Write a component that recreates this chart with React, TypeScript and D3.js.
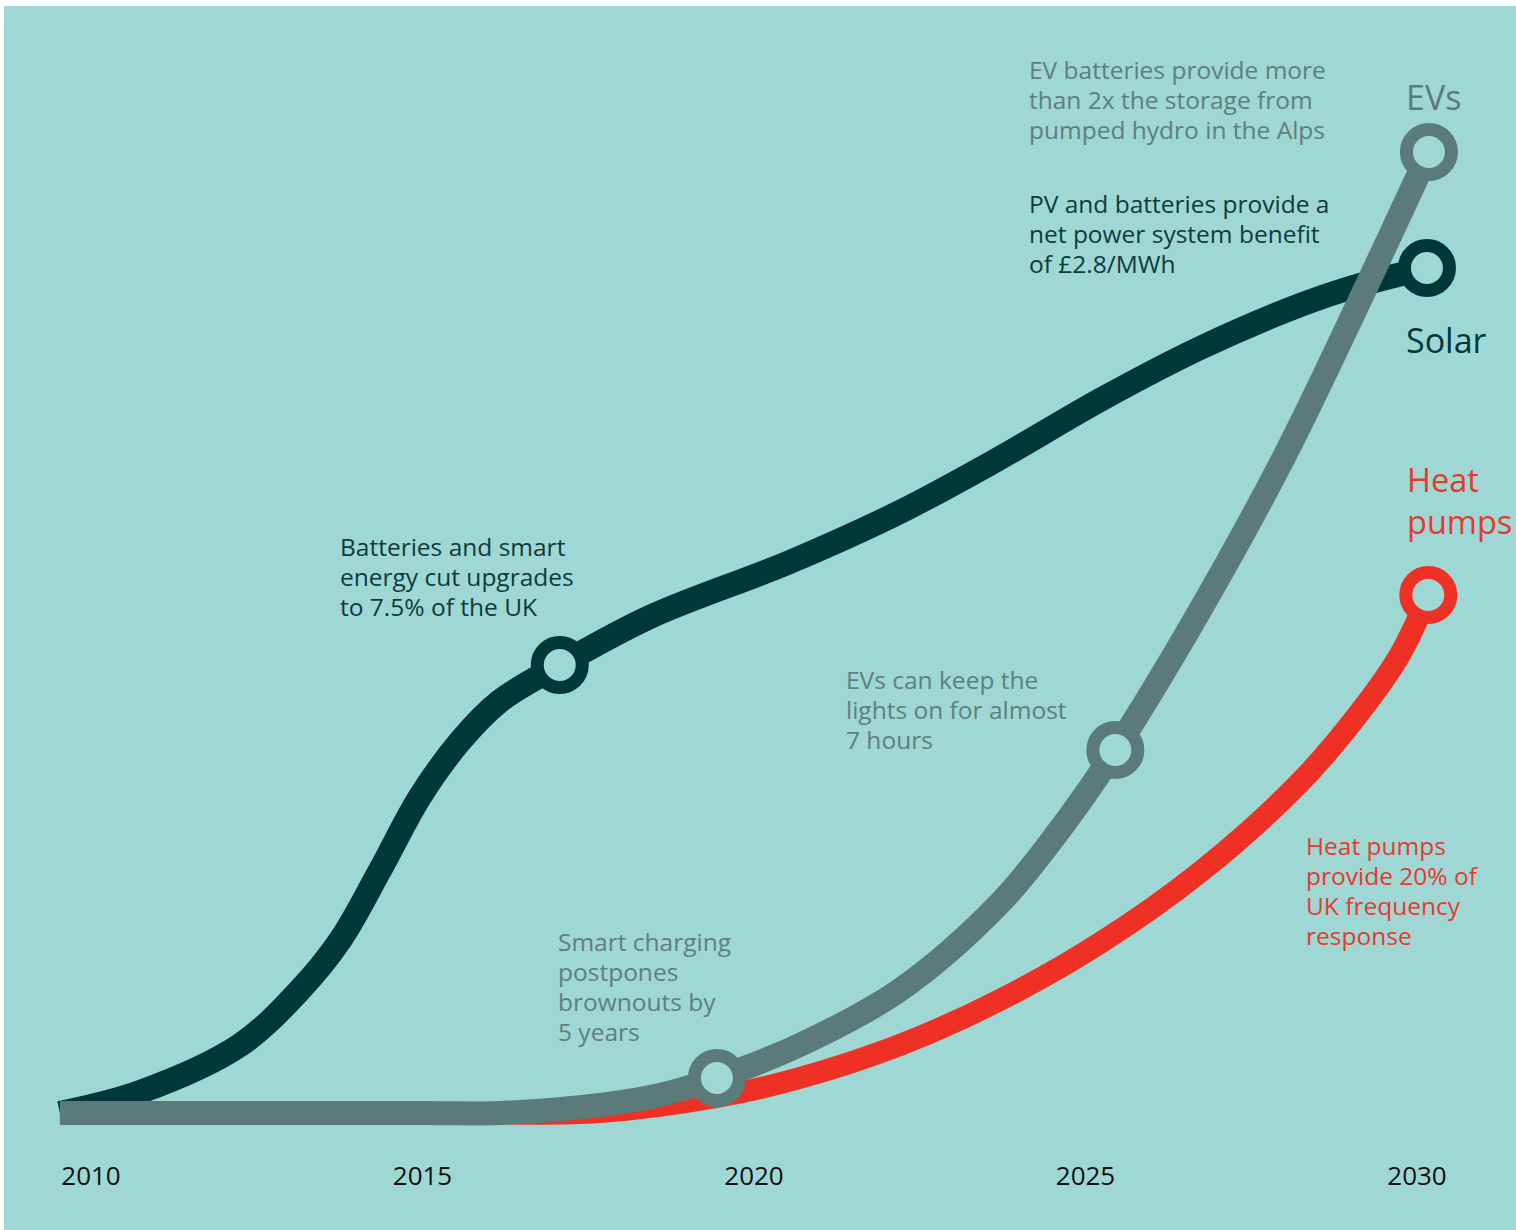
import React from "react";
import * as d3 from "d3";

// ---- data (year, index value) ----
const yearTicks = [2010, 2015, 2020, 2025, 2030];

const solarYears = [2009.53, 2010.74, 2012.25, 2013.15, 2013.76, 2014.36, 2014.96, 2015.57, 2016.17, 2017.07, 2018.43, 2020.54, 2022.2, 2023.71, 2025.22, 2026.73, 2028.24, 2029.14, 2030.15];
const solarValues = [0, 2.1, 6.8, 12.3, 17.3, 24.3, 31.6, 37.2, 41.2, 44.8, 49.6, 55.1, 60.1, 65.5, 71.3, 76.5, 80.8, 82.8, 84.5];
const solarMarkers = [9, 18];

const evYears = [2009.53, 2015.0, 2016.17, 2017.68, 2018.58, 2019.44, 2020.69, 2022.2, 2023.71, 2024.62, 2025.45, 2026.73, 2028.01, 2029.14, 2030.18];
const evValues = [0, 0, 0, 0.8, 1.8, 3.5, 6.8, 12.3, 21.0, 28.4, 36.3, 50.3, 65.8, 81.3, 96.1];
const evMarkers = [5, 10, 14];

const heatYears = [2015.87, 2017.68, 2019.44, 2020.69, 2022.2, 2023.71, 2025.22, 2026.73, 2028.24, 2029.14, 2029.74, 2030.17];
const heatValues = [0, 0.1, 1.6, 3.5, 6.8, 11.3, 17.0, 24.1, 33.1, 40.1, 45.8, 51.8];
const heatMarkers = [11];

const seriesLabels = ["EVs", "Solar", "Heat pumps"];

const evNote = ["EV batteries provide more", "than 2x the storage from", "pumped hydro in the Alps"];
const solarNote = ["PV and batteries provide a", "net power system benefit", "of £2.8/MWh"];
const batteryNote = ["Batteries and smart", "energy cut upgrades", "to 7.5% of the UK"];
const evHoursNote = ["EVs can keep the", "lights on for almost", "7 hours"];
const smartNote = ["Smart charging", "postpones", "brownouts by", "5 years"];
const heatNote = ["Heat pumps", "provide 20% of", "UK frequency", "response"];

const BG = "#9fd7d4";
const DARK = "#00373a";
const GREY = "#5a7b79";
const RED = "#ee3124";
const FONT = "'Open Sans', 'Noto Sans', sans-serif";

export default function App() {
  const W = 1516;
  const H = 1230;
  const x = d3.scaleLinear().domain([2010, 2030]).range([91, 1417]);
  const y = d3.scaleLinear().domain([0, 100]).range([1113, 113]);

  const mk = (ys: number[], vs: number[]) => ys.map((yr, i) => [yr, vs[i]] as [number, number]);
  const solar = mk(solarYears, solarValues);
  const ev = mk(evYears, evValues);
  const heat = mk(heatYears, heatValues);

  const lineGen = d3
    .line<[number, number]>()
    .x((d) => x(d[0]))
    .y((d) => y(d[1]))
    .curve(d3.curveCatmullRom.alpha(0.5));

  const ring = (d: [number, number], color: string, key: string) => (
    <circle key={key} cx={x(d[0])} cy={y(d[1])} r={22.5} fill={BG} stroke={color} strokeWidth={13} />
  );

  const textBlock = (lines: string[], tx: number, ty: number, lh: number, size: number, color: string, key: string) => (
    <text key={key} x={tx} y={ty} fill={color} fontSize={size} fontFamily={FONT}>
      {lines.map((l, i) => (
        <tspan key={i} x={tx} dy={i === 0 ? 0 : lh}>
          {l}
        </tspan>
      ))}
    </text>
  );

  return (
    <svg width={W} height={H} style={{ position: "absolute", left: 0, top: 0, display: "block" }}>
      <rect x={0} y={0} width={W} height={H} fill="#ffffff" />
      <rect x={4} y={6} width={W - 4} height={H - 6} fill={BG} />

      <path d={lineGen(solar) || ""} fill="none" stroke={DARK} strokeWidth={24} />
      <path d={lineGen(heat) || ""} fill="none" stroke={RED} strokeWidth={22} />
      <path d={lineGen(ev) || ""} fill="none" stroke={GREY} strokeWidth={24} />

      {solarMarkers.map((i) => ring(solar[i], DARK, "s" + i))}
      {heatMarkers.map((i) => ring(heat[i], RED, "h" + i))}
      {evMarkers.map((i) => ring(ev[i], GREY, "e" + i))}

      {yearTicks.map((t) => (
        <text key={t} x={x(t)} y={1185} textAnchor="middle" fontSize={26} fill="#111" fontFamily={FONT}>
          {t}
        </text>
      ))}

      {textBlock([seriesLabels[0]], 1406, 110, 0, 34, GREY, "l0")}
      {textBlock([seriesLabels[1]], 1406, 353, 0, 34, DARK, "l1")}
      {textBlock(seriesLabels[2].split(" "), 1407, 492, 42, 32.5, "#e53a2e", "l2")}

      {textBlock(evNote, 1029, 79, 30, 24.5, "#5e7f7d", "n1")}
      {textBlock(solarNote, 1029, 213, 30, 24.5, "#0d3b3d", "n2")}
      {textBlock(batteryNote, 340, 556, 30, 24.5, "#0d3b3d", "n3")}
      {textBlock(evHoursNote, 846, 689, 30, 24.5, "#5e7f7d", "n4")}
      {textBlock(smartNote, 558, 951, 30, 24.5, "#5e7f7d", "n5")}
      {textBlock(heatNote, 1306, 855, 30, 24.5, "#e53a2e", "n6")}
    </svg>
  );
}
